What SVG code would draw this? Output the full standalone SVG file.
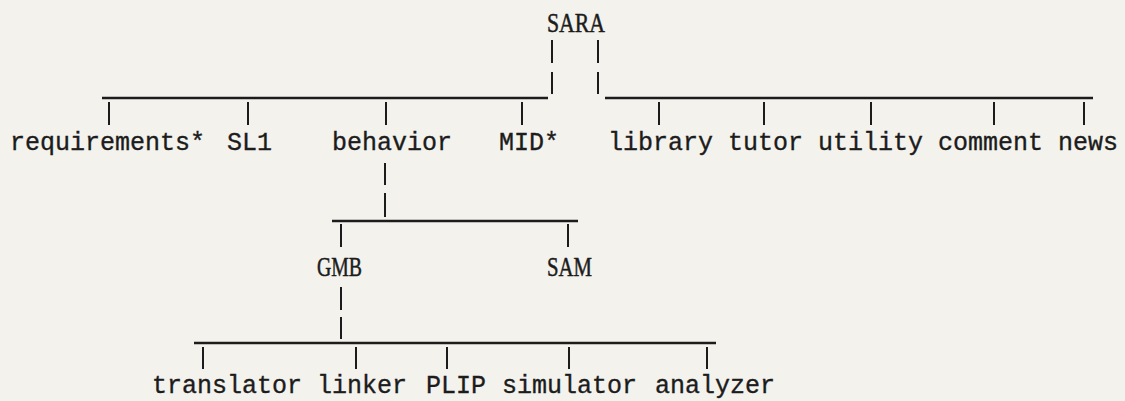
<svg xmlns="http://www.w3.org/2000/svg" width="1125" height="401" viewBox="0 0 1125 401">
  <style>
    .bg { fill: #f3f2ed; }
    .bar { stroke: #1c1c1c; stroke-width: 2.6; fill: none; }
    .tick { stroke: #1c1c1c; stroke-width: 2; fill: none; }
    .lbl { font-family: "Liberation Mono", "Courier New", monospace; font-size: 25px; fill: #1c1c1c; stroke: #1c1c1c; stroke-width: 0.35; }
    .cap { font-family: "Liberation Serif", "Times New Roman", serif; font-size: 27px; fill: #1c1c1c; stroke: #1c1c1c; stroke-width: 0.5; }
  </style>

  <rect class="bg" x="0" y="0" width="1125" height="401"/>

  <!-- connectors: typed bars and vertical strokes -->
  <g id="connectors">
    <!-- SARA double stem -->
    <path class="tick" d="M552 40V63M552 72V94M598 40V63M598 72V94"/>
    <!-- top level bars -->
    <path class="bar" d="M102 98H548M605 98H1093"/>
    <!-- drops to first-level children -->
    <path class="tick" d="M109 102V125M248 102V125M386 102V125M522 102V125"/>
    <path class="tick" d="M659 102V125M764 102V125M871 102V125M994 102V125M1084 102V125"/>
    <!-- behavior branch -->
    <path class="tick" d="M385 163V185M385 193V217"/>
    <path class="bar" d="M332 221H578"/>
    <path class="tick" d="M341 224V247M568 224V247"/>
    <!-- GMB branch -->
    <path class="tick" d="M341 287V310M341 317V339"/>
    <path class="bar" d="M194 343H716"/>
    <path class="tick" d="M203 347V369M356 347V369M447 347V369M569 347V369M707 347V369"/>
  </g>

  <!-- root -->
  <g id="n-sara"><text class="cap" x="547" y="32" textLength="58" lengthAdjust="spacingAndGlyphs">SARA</text></g>

  <!-- first level -->
  <g id="n-requirements"><text class="lbl" x="10" y="150">requirements*</text></g>
  <g id="n-sl1"><text class="lbl" x="227" y="150">SL1</text></g>
  <g id="n-behavior"><text class="lbl" x="332" y="150">behavior</text></g>
  <g id="n-mid"><text class="lbl" x="499" y="150">MID*</text></g>
  <g id="n-library"><text class="lbl" x="608" y="150">library</text></g>
  <g id="n-tutor"><text class="lbl" x="728" y="150">tutor</text></g>
  <g id="n-utility"><text class="lbl" x="818" y="150">utility</text></g>
  <g id="n-comment"><text class="lbl" x="938" y="150">comment</text></g>
  <g id="n-news"><text class="lbl" x="1058" y="150">news</text></g>

  <!-- second level -->
  <g id="n-gmb"><text class="cap" x="317" y="276" textLength="45" lengthAdjust="spacingAndGlyphs">GMB</text></g>
  <g id="n-sam"><text class="cap" x="547" y="276" textLength="45" lengthAdjust="spacingAndGlyphs">SAM</text></g>

  <!-- third level -->
  <g id="n-translator"><text class="lbl" x="152" y="393">translator</text></g>
  <g id="n-linker"><text class="lbl" x="317" y="393">linker</text></g>
  <g id="n-plip"><text class="lbl" x="426" y="393">PLIP</text></g>
  <g id="n-simulator"><text class="lbl" x="502" y="393">simulator</text></g>
  <g id="n-analyzer"><text class="lbl" x="655" y="393">analyzer</text></g>
</svg>
